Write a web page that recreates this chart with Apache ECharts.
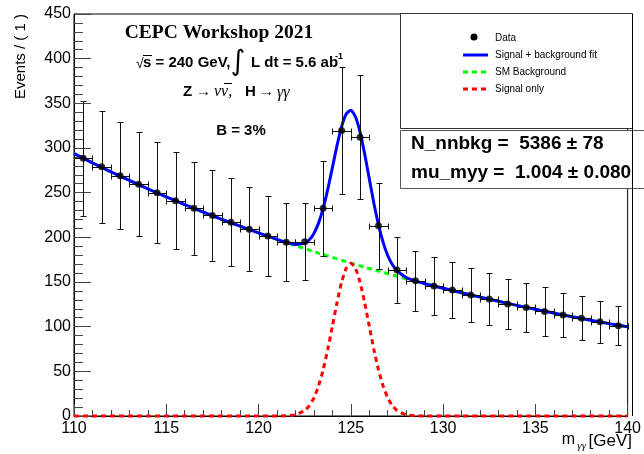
<!DOCTYPE html>
<html>
<head>
<meta charset="utf-8">
<title>CEPC m_yy fit</title>
<script src="https://cdn.jsdelivr.net/npm/echarts@6/dist/echarts.min.js"></script>
<style>
  html, body { margin: 0; padding: 0; background: #fff; }
  #chart { width: 644px; height: 454px; }
</style>
</head>
<body>
<div id="chart"></div>
<script>
/* 数据区 : m_yy 直方图 (bin 宽 1 GeV) */
var binCenters = [110.5, 111.5, 112.5, 113.5, 114.5, 115.5, 116.5, 117.5, 118.5, 119.5,
                  120.5, 121.5, 122.5, 123.5, 124.5, 125.5, 126.5, 127.5, 128.5, 129.5,
                  130.5, 131.5, 132.5, 133.5, 134.5, 135.5, 136.5, 137.5, 138.5, 139.5];
var counts = [288.5, 279, 269, 259.5, 250, 241, 232.5, 224.5, 217, 209,
              201.5, 194.5, 195, 232.5, 319.5, 312, 213, 163.5, 151.5, 145.5,
              141, 135.5, 131, 125.5, 121.5, 117, 113, 109.5, 105.5, 101];
var countErrors = [64.5, 62.5, 60, 58, 56.5, 54.5, 52, 50.5, 49, 47,
                   45, 43.5, 43, 53, 71.5, 69.5, 48, 36.5, 33.5, 32,
                   31, 30.5, 29.5, 28, 27, 27, 25, 24.5, 23.5, 22];
var binHalfWidth = 0.5;

/* 拟合曲线 (读图取点) */
var curveMass = [110, 111, 112, 113, 114, 115, 116, 117, 118, 119, 120, 121, 121.5, 122,
                 122.5, 122.75, 123, 123.25, 123.5, 123.75, 124, 124.25, 124.5, 124.75,
                 125, 125.25, 125.5, 125.75, 126, 126.25, 126.5, 126.75, 127, 127.25, 127.5,
                 128, 128.5, 129, 130, 131, 132, 133, 134, 135, 136, 137, 138, 139, 140];
var fitCurve = [293.7, 283.4, 273.3, 263.7, 254.3, 245.3, 236.7, 228.3, 220.2, 212.5, 204.9, 197.7, 194.5, 192.1,
                193.5, 197.2, 204.4, 215.9, 232.4, 253.6, 278.0, 302.7, 324.0, 338.1,
                342.2, 335.0, 317.8, 293.4, 265.6, 238.1, 213.9, 194.3, 179.7, 169.5, 162.7,
                155.1, 151.2, 148.2, 143.0, 137.9, 133.1, 128.4, 123.8, 119.4, 115.2, 111.1, 107.2, 103.4, 99.8];
var bkgCurve = [293.7, 283.4, 273.3, 263.7, 254.3, 245.3, 236.7, 228.3, 220.2, 212.5, 204.9, 197.7, 194.2, 190.7,
                187.3, 185.6, 184.0, 182.3, 180.7, 179.1, 177.5, 175.9, 174.3, 172.7,
                171.2, 169.6, 168.1, 166.6, 165.1, 163.6, 162.2, 160.7, 159.3, 157.9, 156.5,
                153.7, 150.9, 148.2, 143.0, 137.9, 133.1, 128.4, 123.8, 119.4, 115.2, 111.1, 107.2, 103.4, 99.8];
var sigCurve = [0, 0, 0, 0, 0, 0, 0, 0, 0, 0, 0, 0, 0.3, 1.4,
                6.2, 11.6, 20.4, 33.6, 51.7, 74.5, 100.5, 126.8, 149.7, 165.4,
                171, 165.4, 149.7, 126.8, 100.5, 74.5, 51.7, 33.6, 20.4, 11.6, 6.2,
                1.4, 0.3, 0, 0, 0, 0, 0, 0, 0, 0, 0, 0, 0, 0];

/* 坐标轴刻度 */
var xTicks = [110, 115, 120, 125, 130, 135, 140];
var yTicks = [0, 50, 100, 150, 200, 250, 300, 350, 400, 450];

var legendLabels = ['Data', 'Signal + background fit', 'SM Background', 'Signal only'];
var statLines = ['N_nnbkg =  5386 \u00b1 78', 'mu_myy =  1.004 \u00b1 0.080'];

var pair = function (xs, ys) {
    return xs.map(function (x, i) { return [x, ys[i]]; });
};

var chart = echarts.init(document.getElementById('chart'));

// 误差棒 : 竖直 (计数误差) + 水平 (bin 宽)
var renderErrorBar = function (params, api) {
    var x = api.value(0), y = api.value(1), e = api.value(2);
    var c = api.coord([x, y]);
    var top = api.coord([x, y + e]);
    var bot = api.coord([x, y - e]);
    var lft = api.coord([x - binHalfWidth, y]);
    var rgt = api.coord([x + binHalfWidth, y]);
    var cx = Math.round(c[0]) + 0.5, cy = Math.round(c[1]) + 0.5;
    var ty = Math.round(top[1]) + 0.5, by = Math.round(bot[1]) + 0.5;
    var lx = Math.round(lft[0]) + 0.5, rx = Math.round(rgt[0]) + 0.5;
    var cap = 3;
    var st = { stroke: '#111', lineWidth: 1 };
    return {
        type: 'group',
        children: [
            { type: 'line', shape: { x1: cx, y1: ty, x2: cx, y2: by }, style: st },
            { type: 'line', shape: { x1: cx - cap, y1: ty, x2: cx + cap, y2: ty }, style: st },
            { type: 'line', shape: { x1: cx - cap, y1: by, x2: cx + cap, y2: by }, style: st },
            { type: 'line', shape: { x1: lx, y1: cy, x2: rx, y2: cy }, style: st },
            { type: 'line', shape: { x1: lx, y1: cy - cap, x2: lx, y2: cy + cap }, style: st },
            { type: 'line', shape: { x1: rx, y1: cy - cap, x2: rx, y2: cy + cap }, style: st }
        ]
    };
};

var sans = '"Liberation Sans", Arial, sans-serif';
var serif = '"Liberation Serif", "Times New Roman", serif';

var txt = function (x, y, text, font, align, extra) {
    var o = {
        type: 'text', x: x, y: y, z: 100,
        style: { text: text, font: font, fill: '#000', align: align || 'left', verticalAlign: 'middle' }
    };
    if (extra) { for (var k in extra) { o[k] = extra[k]; } }
    return o;
};
var seg = function (x1, y1, x2, y2, color, width, dash) {
    return {
        type: 'line', z: 100,
        shape: { x1: x1, y1: y1, x2: x2, y2: y2 },
        style: { stroke: color, lineWidth: width, lineDash: dash || null }
    };
};

var graphics = [
    // 轴标题
    txt(21, 14, 'Events / ( 1 )', '15px ' + sans, 'right', { rotation: Math.PI / 2 }),
    txt(632, 441, '[GeV]', '17px ' + sans, 'right'),
    txt(586, 446, '\u03b3\u03b3', 'italic 11px ' + serif, 'right'),
    txt(575, 440, 'm', '16px ' + sans, 'right'),

    // 左上角说明
    txt(219, 33, 'CEPC Workshop 2021', 'bold 19.5px ' + serif, 'center'),
    txt(136, 64, '\u221a', '14px ' + sans, 'left'),
    seg(143, 55.5, 152, 55.5, '#000', 1),
    txt(143, 63, 's = 240 GeV,', 'bold 15px ' + sans, 'left'),
    txt(238, 63, '\u222b', '28px "DejaVu Sans", sans-serif', 'center'),
    txt(251, 63, 'L dt = 5.6 ab', 'bold 15px ' + sans, 'left'),
    txt(335, 57, '-1', 'bold 9px ' + sans, 'left'),
    txt(183, 92, 'Z', 'bold 15px ' + sans, 'left'),
    txt(196, 92, '\u2192', '15px ' + serif, 'left'),
    txt(214, 92, '\u03bd\u03bd,', 'italic 16px ' + serif, 'left'),
    seg(224, 83.5, 232, 83.5, '#000', 1),
    txt(245, 92, 'H', 'bold 15px ' + sans, 'left'),
    txt(259, 92, '\u2192', '15px ' + serif, 'left'),
    txt(277, 93, '\u03b3\u03b3', 'italic 16px ' + serif, 'left'),
    txt(241, 131, 'B = 3%', 'bold 15px ' + sans, 'center'),

    // 图例框
    {
        type: 'rect', z: 90,
        shape: { x: 400.5, y: 13.5, width: 232, height: 115 },
        style: { fill: '#fff', stroke: '#333', lineWidth: 1 }
    },
    { type: 'circle', z: 100, shape: { cx: 474, cy: 37, r: 3.5 }, style: { fill: '#000' } },
    seg(463, 55, 488, 55, '#0000ff', 3),
    seg(463, 72, 488, 72, '#00ff00', 3, [5, 4]),
    seg(463, 89, 488, 89, '#ff0000', 3, [5, 4]),
    txt(495, 38, legendLabels[0], '10px ' + sans, 'left'),
    txt(495, 55, legendLabels[1], '10px ' + sans, 'left'),
    txt(495, 72, legendLabels[2], '10px ' + sans, 'left'),
    txt(495, 89, legendLabels[3], '10px ' + sans, 'left'),

    // 拟合参数框
    {
        type: 'rect', z: 90,
        shape: { x: 400.5, y: 130.5, width: 260, height: 58 },
        style: { fill: '#fff', stroke: '#555', lineWidth: 1 }
    },
    seg(632.5, 14, 632.5, 416, '#000', 1),
    txt(411, 144, statLines[0], 'bold 19px ' + sans, 'left'),
    txt(411, 173, statLines[1], 'bold 19px ' + sans, 'left')
];

var option = {
    animation: false,
    backgroundColor: '#fff',
    grid: {
        left: 74, right: 12, top: 14, bottom: 38,
        show: true, borderColor: '#000', borderWidth: 1, backgroundColor: 'transparent'
    },
    xAxis: {
        type: 'value',
        min: xTicks[0], max: xTicks[xTicks.length - 1], interval: xTicks[1] - xTicks[0],
        axisLine: { show: true, onZero: false, lineStyle: { color: '#000', width: 1 } },
        axisTick: { show: true, inside: true, length: 12, lineStyle: { color: '#444' } },
        minorTick: { show: true, splitNumber: 5, length: 6, lineStyle: { color: '#444' } },
        splitLine: { show: false },
        axisLabel: { show: true, showMinLabel: true, showMaxLabel: true, margin: 5,
                     color: '#000', fontSize: 16, fontFamily: sans }
    },
    yAxis: {
        type: 'value',
        min: yTicks[0], max: yTicks[yTicks.length - 1], interval: yTicks[1] - yTicks[0],
        axisLine: { show: true, lineStyle: { color: '#000', width: 1 } },
        axisTick: { show: true, inside: true, length: 17, lineStyle: { color: '#444' } },
        minorTick: { show: true, splitNumber: 5, length: 9, lineStyle: { color: '#444' } },
        splitLine: { show: false },
        axisLabel: { show: true, showMinLabel: true, margin: 3,
                     color: '#000', fontSize: 16, fontFamily: sans }
    },
    series: [
        {
            name: 'SM Background', type: 'line', z: 3, symbol: 'none', smooth: 0.2,
            data: pair(curveMass, bkgCurve),
            lineStyle: { color: '#00ff00', width: 3, type: [5, 4] }
        },
        {
            name: 'Signal + background fit', type: 'line', z: 4, symbol: 'none', smooth: 0.2,
            data: pair(curveMass, fitCurve),
            lineStyle: { color: '#0000ff', width: 3 }
        },
        {
            name: 'Signal only', type: 'line', z: 5, symbol: 'none', smooth: 0.2, clip: false,
            data: pair(curveMass, sigCurve),
            lineStyle: { color: '#ff0000', width: 3, type: [5, 4] }
        },
        {
            name: 'errors', type: 'custom', z: 6,
            renderItem: renderErrorBar,
            encode: { x: 0, y: 1 },
            data: binCenters.map(function (x, i) { return [x, counts[i], countErrors[i]]; })
        },
        {
            name: 'Data', type: 'scatter', z: 7, symbol: 'circle', symbolSize: 7,
            data: pair(binCenters, counts),
            itemStyle: { color: '#000' }
        }
    ],
    graphic: graphics
};

chart.setOption(option);
</script>
</body>
</html>
